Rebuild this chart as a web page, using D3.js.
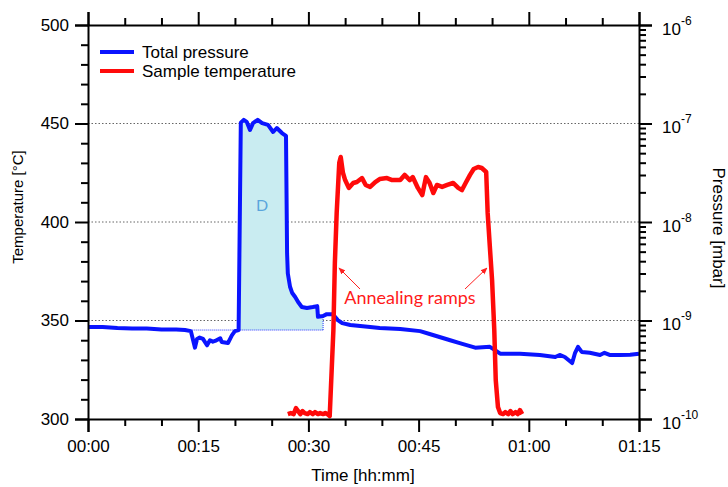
<!DOCTYPE html>
<html><head><meta charset="utf-8">
<script src="https://cdn.jsdelivr.net/npm/d3@7"></script>
<style>
html,body{margin:0;padding:0;background:#fff;}
svg{display:block;font-family:"Liberation Sans",Arial,sans-serif;}
</style></head>
<body><svg id="c" width="728" height="487"></svg>
<script>
// ---- data ----
const timeTicks = [0, 15, 30, 45, 60, 75];
const timeLabels = ["00:00", "00:15", "00:30", "00:45", "01:00", "01:15"];
const tempTicks = [300, 350, 400, 450, 500];
const pressTicks = [1e-10, 1e-9, 1e-8, 1e-7, 1e-6];
const pressExp = ["-10", "-9", "-8", "-7", "-6"];
const gridTemps = [350, 400, 450];

// Total pressure [mbar] vs time [min]
const pressTime = [0,2,4,6,8,10,12,13.2,14.0,14.56,14.84,15.2,15.65,16.2,16.6,17.0,17.3,18.0,18.2,19.05,19.6,20.0,20.5,20.8,21.2,21.6,22.05,22.46,23.1,23.7,24.5,25.2,25.7,26.4,26.95,27.1,27.2,27.5,27.8,28.2,28.6,29.1,29.8,30.6,31.2,31.3,32.0,32.5,33.3,34.0,34.6,35.7,38.4,39.7,42.5,45.2,46.5,49.3,50.6,52.7,54.7,55.4,56.1,58.8,61.5,63.6,64.2,64.9,65.9,66.3,66.7,67.2,68.3,69.7,70.3,71.0,72.4,73.8,75];
const pressVal = [8.6e-10,8.6e-10,8.4e-10,8.3e-10,8.3e-10,8.1e-10,8.1e-10,8.0e-10,7.8e-10,5.3e-10,6.5e-10,6.7e-10,6.5e-10,5.6e-10,6.3e-10,6.1e-10,6.2e-10,6.6e-10,6.05e-10,5.9e-10,7.1e-10,7.8e-10,8.0e-10,1.02e-7,1.09e-7,1.04e-7,8.6e-8,1.01e-7,1.09e-7,1.01e-7,9.7e-8,8.2e-8,9.0e-8,8.0e-8,7.5e-8,4.8e-9,3.0e-9,2.2e-9,1.9e-9,1.73e-9,1.54e-9,1.37e-9,1.34e-9,1.37e-9,1.40e-9,1.09e-9,1.11e-9,1.16e-9,1.16e-9,1.01e-9,9.4e-10,9.0e-10,8.6e-10,8.4e-10,8.2e-10,7.8e-10,7.3e-10,6.3e-10,5.9e-10,5.3e-10,5.4e-10,5.0e-10,4.6e-10,4.6e-10,4.47e-10,4.26e-10,4.47e-10,4.26e-10,3.7e-10,4.7e-10,5.4e-10,4.8e-10,4.7e-10,4.47e-10,4.7e-10,4.47e-10,4.47e-10,4.5e-10,4.6e-10];

// Sample temperature [°C] vs time [min]
const tempTime = [27.2,27.6,28.0,28.3,28.6,28.9,29.2,29.5,29.9,30.2,30.6,30.9,31.3,31.6,32.0,32.3,32.6,32.9,33.4,33.6,33.85,34.2,34.4,34.7,35.0,35.5,36.1,36.6,37.3,37.8,38.4,39.1,39.7,40.7,41.4,42.5,43.1,43.8,44.2,44.9,45.5,46.0,46.5,47.0,47.5,48.2,48.9,49.7,50.4,50.9,51.4,52.0,52.5,53.1,53.6,54.2,54.4,54.7,55.0,55.3,55.5,55.8,56.1,56.5,56.8,57.2,57.5,57.8,58.2,58.5,58.8,59.1];
const tempVal = [302.5,303,302.5,305.5,304,302.5,304,303,302.5,303.5,302.5,303.5,302.5,303,302.5,303,302.5,301.5,345,379,404.6,430,433,425,421.3,417.3,419.8,420.3,422.3,418.8,417.8,420.3,421.8,422.3,421.3,421.3,423.9,421.3,422.8,417.3,413.7,422.8,419.8,414.7,418.8,417.8,418.8,419.8,417.3,416.2,419.8,423.9,426.9,427.9,427.4,425.4,404.6,387.3,370.6,345.2,319.8,306.1,303,302.5,303.5,302.5,304,302.5,303.5,302.5,304.5,302.5];

// Desorption integration window
const fillStart = 20.5, fillEnd = 32.0, fillBase = 8.0e-10, baseStart = 14.2;

// ---- layout ----
const svg = d3.select("#c");
const L = 88, R = 639, T = 25, B = 419;
const x = d3.scaleLinear().domain([0, 75]).range([L, R]);
const yT = d3.scaleLinear().domain([300, 500]).range([B, T]);
const yP = d3.scaleLog().domain([1e-10, 1e-6]).range([B, T]);

const press = pressTime.map((t, i) => ({t, v: pressVal[i]}));
const temp = tempTime.map((t, i) => ({t, v: tempVal[i]}));

// grid
svg.append("g").selectAll("line").data(gridTemps).join("line")
  .attr("x1", L).attr("x2", R).attr("y1", d => yT(d)).attr("y2", d => yT(d))
  .attr("stroke", "#666").attr("stroke-width", 1).attr("stroke-dasharray", "1.5,2");

// filled area
const fillData = press.filter(d => d.t >= fillStart && d.t <= fillEnd);
svg.append("path").datum(fillData)
  .attr("d", d3.area().x(d => x(d.t)).y0(yP(fillBase)).y1(d => yP(d.v)))
  .attr("fill", "#c9ecf1");
svg.append("line").attr("x1", x(baseStart)).attr("x2", x(fillEnd))
  .attr("y1", yP(fillBase)).attr("y2", yP(fillBase))
  .attr("stroke", "#2233ff").attr("stroke-width", 1).attr("stroke-dasharray", "1,1");
svg.append("line").attr("x1", x(fillEnd)).attr("x2", x(fillEnd))
  .attr("y1", yP(fillBase)).attr("y2", yP(fillData[fillData.length - 1].v))
  .attr("stroke", "#2233ff").attr("stroke-width", 1).attr("stroke-dasharray", "1,1");
svg.append("text").attr("x", x(23.7)).attr("y", 211).attr("text-anchor", "middle")
  .attr("font-family", "Lato, 'Open Sans', sans-serif").attr("font-size", 16)
  .attr("fill", "#5aa5dc").text("D");

// lines
svg.append("path").datum(press)
  .attr("d", d3.line().x(d => x(d.t)).y(d => yP(d.v)))
  .attr("fill", "none").attr("stroke", "#0a14ff").attr("stroke-width", 4)
  .attr("stroke-linejoin", "round");
svg.append("path").datum(temp)
  .attr("d", d3.line().x(d => x(d.t)).y(d => yT(d.v)))
  .attr("fill", "none").attr("stroke", "#ff0a0a").attr("stroke-width", 4.5)
  .attr("stroke-linejoin", "round");

// annotation
const defs = svg.append("defs");
defs.append("marker").attr("id", "ah").attr("viewBox", "0 0 10 10")
  .attr("refX", 9).attr("refY", 5).attr("markerWidth", 7).attr("markerHeight", 7)
  .attr("orient", "auto").append("path").attr("d", "M0,1 L10,5 L0,9 z").attr("fill", "#ff2020");
svg.append("line").attr("x1", 360).attr("y1", 289).attr("x2", 339).attr("y2", 268)
  .attr("stroke", "#ff2020").attr("stroke-width", 1).attr("marker-end", "url(#ah)");
svg.append("line").attr("x1", 465).attr("y1", 289).attr("x2", 487).attr("y2", 268)
  .attr("stroke", "#ff2020").attr("stroke-width", 1).attr("marker-end", "url(#ah)");
svg.append("text").attr("x", 410).attr("y", 304).attr("text-anchor", "middle")
  .attr("font-family", "Lato, 'Open Sans', sans-serif").attr("font-size", 18)
  .attr("fill", "#ff1a1a").text("Annealing ramps");

// axes
function styleAxis(g) {
  g.selectAll("path").attr("stroke", "#000").attr("stroke-width", 2);
  g.selectAll("line").attr("stroke", "#000").attr("stroke-width", 2);
  g.selectAll("text").attr("font-size", 17).attr("fill", "#000")
    .attr("font-family", "'Liberation Sans', Arial, sans-serif");
}
const minorT = d3.range(0, 76, 5).filter(v => v % 15 !== 0);
const minorTemp = d3.range(300, 501, 10).filter(v => v % 50 !== 0);
const minorP = [];
for (let e = -10; e < -6; e++) for (let k = 2; k <= 9; k++) minorP.push(k * Math.pow(10, e));

svg.append("g").attr("transform", `translate(0,${B})`)
  .call(d3.axisBottom(x).tickValues(timeTicks).tickSize(13).tickPadding(8)
    .tickFormat((d, i) => timeLabels[i])).call(styleAxis);
svg.append("g").attr("transform", `translate(0,${B})`)
  .call(d3.axisBottom(x).tickValues(minorT).tickSize(7).tickFormat(""))
  .call(styleAxis).call(g => g.select("path").remove());
svg.append("g").attr("transform", `translate(0,${T})`)
  .call(d3.axisTop(x).tickValues(timeTicks).tickSize(13).tickFormat("")).call(styleAxis);
svg.append("g").attr("transform", `translate(0,${T})`)
  .call(d3.axisTop(x).tickValues(minorT).tickSize(7).tickFormat(""))
  .call(styleAxis).call(g => g.select("path").remove());
svg.append("g").attr("transform", `translate(${L},0)`)
  .call(d3.axisLeft(yT).tickValues(tempTicks).tickSize(13).tickPadding(6)).call(styleAxis);
svg.append("g").attr("transform", `translate(${L},0)`)
  .call(d3.axisLeft(yT).tickValues(minorTemp).tickSize(7).tickFormat(""))
  .call(styleAxis).call(g => g.select("path").remove());
const gr = svg.append("g").attr("transform", `translate(${R},0)`)
  .call(d3.axisRight(yP).tickValues(pressTicks).tickSize(13).tickPadding(10).tickFormat(() => ""))
  .call(styleAxis);
gr.selectAll(".tick").each(function(d, i) {
  const t = d3.select(this).append("text").attr("x", 23).attr("y", 9)
    .attr("font-size", 17).attr("fill", "#000").attr("text-anchor", "start")
    .attr("font-family", "'Liberation Sans', Arial, sans-serif");
  t.append("tspan").text("10");
  t.append("tspan").attr("dy", -10).attr("font-size", 12).text(pressExp[i]);
});
svg.append("g").attr("transform", `translate(${R},0)`)
  .call(d3.axisRight(yP).tickValues(minorP).tickSize(7).tickFormat(""))
  .call(styleAxis).call(g => g.select("path").remove());

// axis titles
svg.append("text").attr("transform", "translate(23,207) rotate(-90)").attr("text-anchor", "middle")
  .attr("font-size", 15).text("Temperature [°C]");
svg.append("text").attr("transform", "translate(713,228) rotate(90)").attr("text-anchor", "middle")
  .attr("font-size", 17).text("Pressure [mbar]");
svg.append("text").attr("x", 363).attr("y", 481).attr("text-anchor", "middle")
  .attr("font-size", 17).text("Time [hh:mm]");

// legend
const leg = [{n: "Total pressure", c: "#0a14ff", y: 52}, {n: "Sample temperature", c: "#ff0a0a", y: 71}];
const lg = svg.append("g");
lg.selectAll("line").data(leg).join("line").attr("x1", 100).attr("x2", 134)
  .attr("y1", d => d.y).attr("y2", d => d.y).attr("stroke", d => d.c).attr("stroke-width", 4);
lg.selectAll("text").data(leg).join("text").attr("x", 142).attr("y", d => d.y + 6)
  .attr("font-size", 17).text(d => d.n);
</script></body></html>
